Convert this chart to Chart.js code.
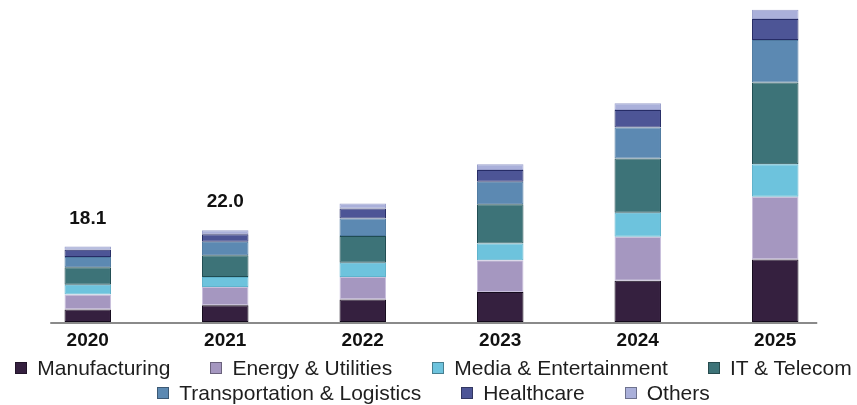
<!DOCTYPE html>
<html>
<head>
<meta charset="utf-8">
<script src="https://cdn.jsdelivr.net/npm/chart.js@4.4.1/dist/chart.umd.min.js"></script>
<style>
  html, body { margin: 0; padding: 0; background: #ffffff; overflow: hidden; }
  #wrap { position: relative; width: 857px; height: 405px; }
  #legend {
    position: absolute; left: 5px; top: 355px; width: 857px;
    display: flex; flex-wrap: wrap; justify-content: center;
    column-gap: 40px; row-gap: 0;
    font-family: "Liberation Sans", Arial, sans-serif; font-size: 21px;
    line-height: 25px; color: #1e1e1e;
  }
  .item { display: flex; align-items: center; white-space: nowrap; }
  .box { width: 12px; height: 12px; margin-right: 10px; box-sizing: border-box; border: 1px solid rgba(0,0,0,0.35); }
</style>
</head>
<body>
<div id="wrap">
  <canvas id="c" width="857" height="405"></canvas>
  <div id="legend"></div>
</div>
<script>
const years = ['2020', '2021', '2022', '2023', '2024', '2025'];
const manufacturing = [3.0, 4.0, 5.4, 7.2, 9.9, 15.0];
const energyUtilities = [3.6, 4.4, 5.4, 7.6, 10.5, 15.0];
const mediaEntertainment = [2.3, 2.4, 3.4, 4.0, 5.8, 7.8];
const itTelecom = [4.2, 5.2, 6.4, 9.4, 13.0, 19.6];
const transportLogistics = [2.5, 3.2, 4.2, 5.4, 7.4, 10.2];
const healthcare = [1.7, 1.8, 2.4, 2.8, 4.2, 5.0];
const others = [0.8, 1.0, 1.2, 1.4, 1.6, 2.2];
const totalLabels = ['18.1', '22.0', '', '', '', ''];

const seriesNames = ['Manufacturing', 'Energy & Utilities', 'Media & Entertainment', 'IT & Telecom',
                     'Transportation & Logistics', 'Healthcare', 'Others'];
const seriesData = [manufacturing, energyUtilities, mediaEntertainment, itTelecom,
                    transportLogistics, healthcare, others];
const fills = ['#35203f', '#a597c0', '#6dc3dd', '#3d7378', '#5c89b2', '#4d5596', '#aab0da'];
const edges = ['#140a1c', '#c9bfdc', '#5fb3cc', '#1f4c52', '#4f7aa0', '#262c66', '#9aa0cc'];

const datasets = seriesNames.map((name, i) => ({
  label: name,
  data: seriesData[i],
  backgroundColor: fills[i],
  borderColor: edges[i],
  borderWidth: 1,
  borderSkipped: false,
  categoryPercentage: 1.0,
  barPercentage: 0.338
}));

const decor = {
  id: 'decor',
  afterDatasetsDraw(chart) {
    const ctx = chart.ctx;
    const x = chart.scales.x, y = chart.scales.y;
    ctx.save();
    ctx.strokeStyle = '#8a8a8a';
    ctx.lineWidth = 2;
    ctx.beginPath();
    ctx.moveTo(x.getPixelForValue(0) - 37.5, chart.chartArea.bottom + 1);
    ctx.lineTo(x.getPixelForValue(years.length - 1) + 42, chart.chartArea.bottom + 1);
    ctx.stroke();
    ctx.font = 'bold 19px "Liberation Sans", Arial, sans-serif';
    ctx.fillStyle = '#111111';
    ctx.textAlign = 'center';
    ctx.textBaseline = 'middle';
    years.forEach((yr, i) => {
      if (!totalLabels[i]) return;
      let sum = 0;
      seriesData.forEach(s => sum += s[i]);
      ctx.fillText(totalLabels[i], x.getPixelForValue(i), y.getPixelForValue(sum) - 28);
    });
    ctx.restore();
  }
};

const chart = new Chart(document.getElementById('c'), {
  type: 'bar',
  data: { labels: years, datasets },
  options: {
    responsive: false,
    devicePixelRatio: 1,
    animation: false,
    layout: { padding: { left: 19, right: 13, top: 9, bottom: 0 } },
    plugins: { legend: { display: false }, tooltip: { enabled: false } },
    scales: {
      x: {
        stacked: true,
        grid: { display: false, drawTicks: false },
        border: { display: false },
        ticks: {
          padding: 7,
          color: '#111111',
          font: { family: '"Liberation Sans", Arial, sans-serif', size: 19, weight: 'bold' }
        },
        afterFit(scale) { scale.height = 83; }
      },
      y: {
        stacked: true,
        display: false,
        min: 0,
        max: 75
      }
    }
  },
  plugins: [decor]
});

const legend = document.getElementById('legend');
chart.data.datasets.forEach(ds => {
  const item = document.createElement('div');
  item.className = 'item';
  const box = document.createElement('span');
  box.className = 'box';
  box.style.background = ds.backgroundColor;
  const txt = document.createElement('span');
  txt.textContent = ds.label;
  item.appendChild(box);
  item.appendChild(txt);
  legend.appendChild(item);
});
</script>
</body>
</html>
